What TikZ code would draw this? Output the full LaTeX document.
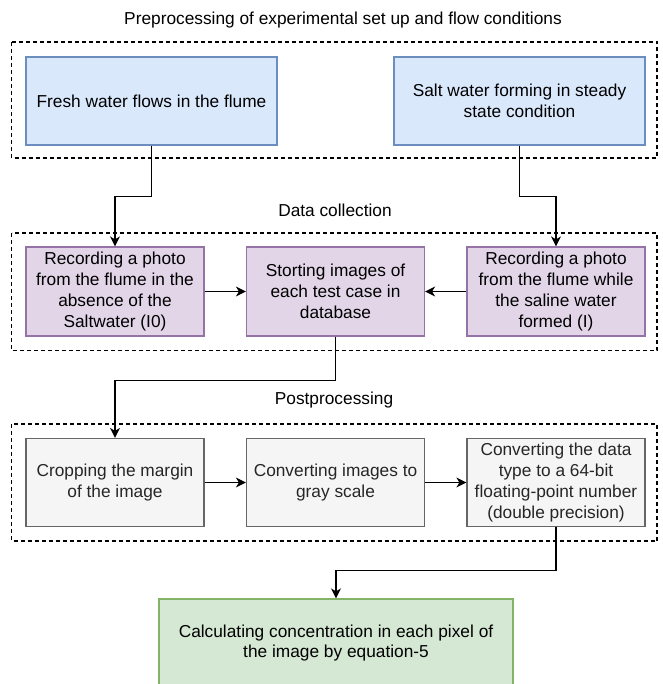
\documentclass[tikz,border=0pt]{standalone}
\usepackage{fontspec}
\setmainfont{Liberation Sans}
\usetikzlibrary{arrows.meta}
\definecolor{bfill}{HTML}{DAE8FC}\definecolor{bline}{HTML}{6C8EBF}
\definecolor{pfill}{HTML}{E1D5E7}\definecolor{pline}{HTML}{9673A6}
\definecolor{gfill}{HTML}{F5F5F5}\definecolor{gline}{HTML}{666666}
\definecolor{nfill}{HTML}{D5E8D4}\definecolor{nline}{HTML}{82B366}
\begin{document}
\begin{tikzpicture}[x=1pt,y=-1pt,
  font=\fontsize{17.3pt}{20.7pt}\selectfont,
  box/.style={draw, line width=1.2pt, inner sep=0pt, align=center, minimum height=88pt, text=black},
  bluebox/.style={box, fill=bfill, draw=bline, minimum width=251pt},
  purplebox/.style={box, fill=pfill, draw=pline, minimum width=178pt, minimum height=89pt},
  graybox/.style={box, fill=gfill, draw=gline, minimum width=178pt, text=black!85},
  greenbox/.style={box, fill=nfill, draw=nline, minimum width=354pt},
  group/.style={draw, line width=1.2pt, dash pattern=on 4pt off 3pt},
  conn/.style={draw, line width=1.4pt, -{Stealth[length=10pt,width=10pt,inset=3pt]}},
  label/.style={inner sep=0pt}]
\clip (0,0) rectangle (662,684);
\fill[white] (0,0) rectangle (662,684);
% group frames
\draw[group] (11.5,42) rectangle (657,158);
\draw[group] (11.5,233) rectangle (657,350.5);
\draw[group] (11.5,424) rectangle (657,541);
% labels
\node[label] (t1) at (343,20) {Preprocessing of experimental set up and flow conditions};
\node[label] (t2) at (335,210) {Data collection};
\node[label] (t3) at (334,400) {Postprocessing};
% boxes
\node[bluebox] (b1) at (151.5,101) {Fresh water flows in the flume};
\node[bluebox] (b2) at (519.5,101) {Salt water forming in steady\\state condition};
\node[purplebox] (p1) at (115,291.5) {Recording a photo\\from the flume in the\\absence of the\\Saltwater (I0)};
\node[purplebox] (p2) at (335.5,291.5) {Storting images of\\each test case in\\database};
\node[purplebox] (p3) at (556,291.5) {Recording a photo\\from the flume while\\the saline water\\formed (I)};
\node[graybox] (g1) at (115,482.5) {Cropping the margin\\of the image};
\node[graybox] (g2) at (335.5,482.5) {Converting images to\\gray scale};
\node[graybox] (g3) at (556,482.5) {Converting the data\\type to a 64-bit\\floating-point number\\(double precision)};
\node[greenbox] (gr) at (336,643) {Calculating concentration in each pixel of\\the image by equation-5};
% connectors
\draw[conn] (b1.south) -- ++(0,51) -| (p1.north);
\draw[conn] (b2.south) -- ++(0,51) -| (p3.north);
\draw[conn] (p1.east) -- (p2.west);
\draw[conn] (p3.west) -- (p2.east);
\draw[conn] (p2.south) -- ++(0,44) -| (g1.north);
\draw[conn] (g1.east) -- (g2.west);
\draw[conn] (g2.east) -- (g3.west);
\draw[conn] (g3.south) -- ++(0,43.5) -| (gr.north);
\end{tikzpicture}
\end{document}
